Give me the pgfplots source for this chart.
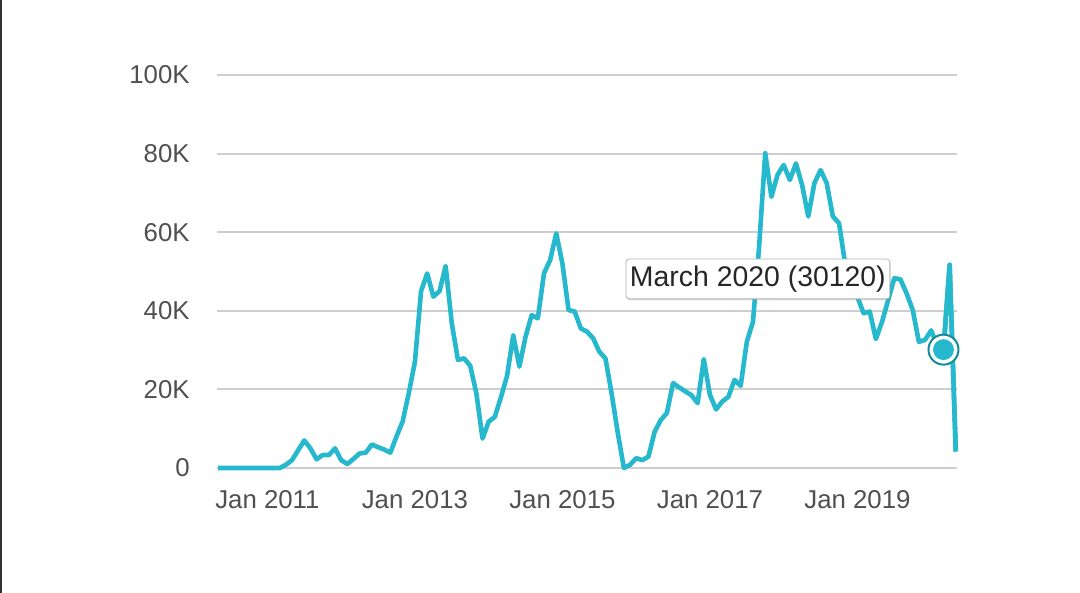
\documentclass[border=0pt]{standalone}
\usepackage{pgfplots}
\pgfplotsset{compat=1.18}
\usepackage{pgfplotstable}
\usepackage{fontspec}
\setmainfont{Liberation Sans}
\usetikzlibrary{shadows}
\definecolor{linec}{RGB}{38,184,204}
\definecolor{ringc}{RGB}{20,140,155}
\definecolor{gridc}{RGB}{206,206,206}
\definecolor{labc}{RGB}{80,80,80}
\pgfplotstableread{
m v
-8 0
-7 0
-6 0
-5 0
-4 0
-3 0
-2 0
-1 0
0 0
1 0
2 0
3 0.8
4 2
5 4.5
6 7
7 5
8 2.2
9 3.3
10 3.3
11 5
12 2
13 1
14 2.3
15 3.7
16 3.9
17 6
18 5.3
19 4.7
20 3.9
21 8
22 11.8
23 19
24 27
25 45
26 49.5
27 43.6
28 45
29 51.4
30 36.8
31 27.5
32 27.9
33 26
34 19
35 7.5
36 11.8
37 13
38 18
39 23.5
40 33.8
41 25.8
42 33.4
43 38.9
44 38.1
45 49.5
46 52.9
47 59.7
48 52
49 40.2
50 39.8
51 35.5
52 34.7
53 33
54 29.6
55 27.9
56 19
57 9
58 0
59 0.8
60 2.5
61 2
62 2.9
63 9.2
64 12.2
65 14
66 21.6
67 20.5
68 19.5
69 18.5
70 16.5
71 27.7
72 18.6
73 14.9
74 16.9
75 18.1
76 22.4
77 20.9
78 32.1
79 37.2
80 56.3
81 80.1
82 69
83 74.6
84 77.1
85 73.3
86 77.5
87 72
88 64
89 72.5
90 75.8
91 72.5
92 64
93 62.3
94 52
95 44
96 43.5
97 39.4
98 39.8
99 32.8
100 37.2
101 42.7
102 48.3
103 48
104 44.4
105 40.2
106 32.1
107 32.6
108 35
109 31
110 30.12
111 51.7
112 4.2
}\datatable
\begin{document}
\begin{tikzpicture}
\useasboundingbox (0,0) rectangle (540pt,296.5pt);
\fill[white] (0,0) rectangle (540pt,296.5pt);
\fill[black!80] (0,0) rectangle (1.2pt,296.5pt);
\begin{axis}[
  at={(108.5pt,62.5pt)}, anchor=south west,
  width=370pt, height=196.5pt, scale only axis,
  xmin=-8.2, xmax=112.2, ymin=0, ymax=100,
  axis line style={draw=none},
  major tick length=0pt,
  xtick={0,24,48,72,96},
  xticklabels={Jan 2011,Jan 2013,Jan 2015,Jan 2017,Jan 2019},
  ytick={0,20,40,60,80,100},
  yticklabels={0,20K,40K,60K,80K,100K},
  ymajorgrids, xmajorgrids=false,
  grid style={gridc, line width=1pt},
  tick label style={font=\fontsize{12.9pt}{14pt}\selectfont, text=labc, inner sep=0pt},
  xticklabel style={anchor=base, yshift=-20pt},
  yticklabel style={anchor=east, xshift=-13.5pt},
  clip=false,
]
\addplot[linec, line width=2.3pt, line join=round] table[x=m, y=v] {\datatable};
\addplot[only marks, mark=*, mark size=7.5pt, mark options={fill=white, draw=ringc, line width=1pt}] coordinates {(110,30.12)};
\addplot[only marks, mark=*, mark size=5pt, mark options={fill=linec, draw=linec}] coordinates {(110,30.12)};
\addplot[linec, line width=2.3pt, line join=round] coordinates {(110,30.12) (111,51.7) (112,4.2)};
\node[draw=black!30, fill=white, rounded corners=1.5pt, inner xsep=2pt, minimum height=19pt,
      drop shadow={shadow xshift=0.6pt, shadow yshift=-0.8pt, opacity=0.25},
      font=\fontsize{14.2pt}{16pt}\selectfont, text=black!85] at (axis cs:79.8,48.1) {March 2020 (30120)};
\end{axis}
\end{tikzpicture}
\end{document}
